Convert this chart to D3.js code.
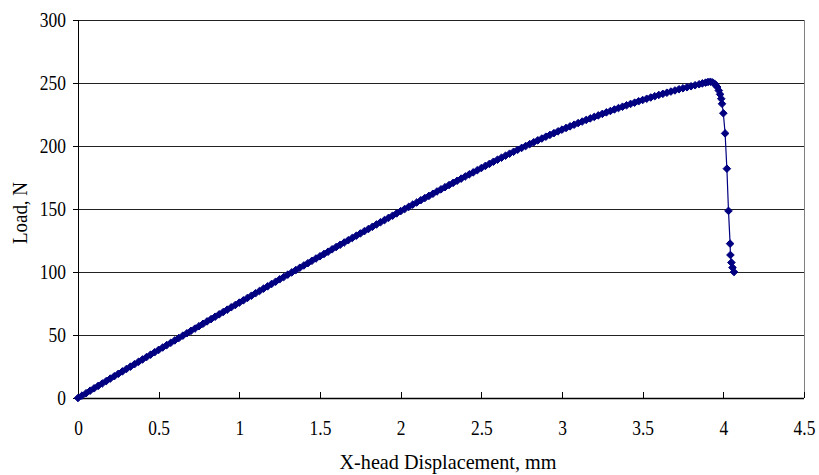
<!DOCTYPE html>
<html lang="en">
<head>
<meta charset="UTF-8">
<title>Load vs X-head Displacement</title>
<script src="https://d3js.org/d3.v7.min.js"></script>
<style>
  body { margin: 0; background: #fff; }
  .chart text { font-family: "Liberation Serif", "Times New Roman", serif; fill: #000; }
</style>
</head>
<body>
<svg class="chart"></svg>
<script>
// x-head displacement (mm) and load (N)
const displacement = [
  0, 0.025, 0.05, 0.075, 0.1, 0.125, 0.15, 0.175, 0.2, 0.225, 0.25, 0.275, 0.3, 0.325, 0.35, 0.375,
  0.4, 0.425, 0.45, 0.475, 0.5, 0.525, 0.55, 0.575, 0.6, 0.625, 0.65, 0.675, 0.7, 0.725, 0.75, 0.775,
  0.8, 0.825, 0.85, 0.875, 0.9, 0.925, 0.95, 0.975, 1.0, 1.025, 1.05, 1.075, 1.1, 1.125, 1.15, 1.175,
  1.2, 1.225, 1.25, 1.275, 1.3, 1.325, 1.35, 1.375, 1.4, 1.425, 1.45, 1.475, 1.5, 1.525, 1.55, 1.575,
  1.6, 1.625, 1.65, 1.675, 1.7, 1.725, 1.75, 1.775, 1.8, 1.825, 1.85, 1.875, 1.9, 1.925, 1.95, 1.975,
  2.0, 2.025, 2.05, 2.075, 2.1, 2.125, 2.15, 2.175, 2.2, 2.225, 2.25, 2.275, 2.3, 2.325, 2.35, 2.375,
  2.4, 2.425, 2.45, 2.475, 2.5, 2.525, 2.55, 2.575, 2.6, 2.625, 2.65, 2.675, 2.7, 2.725, 2.75, 2.775,
  2.8, 2.825, 2.85, 2.875, 2.9, 2.925, 2.95, 2.975, 3.0, 3.025, 3.05, 3.075, 3.1, 3.125, 3.15, 3.175,
  3.2, 3.225, 3.25, 3.275, 3.3, 3.325, 3.35, 3.375, 3.4, 3.425, 3.45, 3.475, 3.5, 3.525, 3.55, 3.575,
  3.6, 3.625, 3.65, 3.675, 3.7, 3.725, 3.75, 3.775, 3.8, 3.825, 3.85, 3.87, 3.89, 3.905, 3.92, 3.935,
  3.95, 3.962, 3.972, 3.98, 3.987, 3.992, 4.0, 4.011, 4.022, 4.032, 4.042, 4.044, 4.05, 4.057, 4.066
];
const load = [
  0, 1.9, 3.8, 5.8, 7.7, 9.6, 11.5, 13.4, 15.4, 17.3, 19.2, 21.1, 23.0, 24.9, 26.8, 28.7,
  30.6, 32.5, 34.4, 36.3, 38.2, 40.1, 42.0, 43.8, 45.7, 47.6, 49.5, 51.4, 53.3, 55.1, 57.0, 58.9,
  60.8, 62.6, 64.5, 66.4, 68.2, 70.1, 72.0, 73.8, 75.7, 77.5, 79.4, 81.2, 83.1, 84.9, 86.8, 88.6,
  90.5, 92.3, 94.2, 96.0, 97.9, 99.7, 101.5, 103.4, 105.2, 107.0, 108.9, 110.7, 112.5, 114.3, 116.1, 118.0,
  119.8, 121.6, 123.4, 125.2, 127.0, 128.8, 130.6, 132.4, 134.1, 135.9, 137.7, 139.5, 141.2, 143.0, 144.7, 146.5,
  148.3, 150.0, 151.7, 153.5, 155.2, 157.0, 158.7, 160.4, 162.1, 163.9, 165.6, 167.3, 169.0, 170.7, 172.4, 174.1,
  175.8, 177.5, 179.1, 180.8, 182.5, 184.2, 185.8, 187.5, 189.1, 190.7, 192.3, 193.9, 195.4, 197.0, 198.5, 200.0,
  201.5, 203.0, 204.5, 205.9, 207.4, 208.8, 210.2, 211.6, 213.0, 214.3, 215.6, 216.9, 218.2, 219.4, 220.7, 221.9,
  223.1, 224.3, 225.5, 226.7, 227.8, 229.0, 230.1, 231.2, 232.3, 233.4, 234.4, 235.5, 236.5, 237.5, 238.5, 239.5,
  240.5, 241.4, 242.3, 243.2, 244.1, 245.0, 245.8, 246.6, 247.4, 248.2, 249.0, 249.7, 250.3, 250.8, 251.0, 250.4,
  249.0, 246.8, 244.0, 241.0, 237.5, 233.5, 226.0, 210.0, 182.0, 148.5, 122.5, 113.5, 107.5, 103.5, 100.0
];
const xTicks = [0, 0.5, 1, 1.5, 2, 2.5, 3, 3.5, 4, 4.5];
const yTicks = [0, 50, 100, 150, 200, 250, 300];
const xTitle = "X-head Displacement, mm";
const yTitle = "Load, N";

const W = 819, H = 475;
const margin = { top: 20, right: 15, bottom: 77, left: 78 };
const width = W - margin.left - margin.right;
const height = H - margin.top - margin.bottom;
const navy = "#000080";

const svg = d3.select(".chart").attr("width", W).attr("height", H);
svg.append("rect").attr("width", W).attr("height", H).attr("fill", "#fff");

const g = svg.append("g")
  .attr("transform", `translate(${margin.left},${margin.top})`);

const x = d3.scaleLinear().domain([0, 4.5]).range([0, width]);
const y = d3.scaleLinear().domain([0, 300]).range([height, 0]);

// the original font is a little narrower than Liberation Serif, squeeze it
function squeeze(sel, k) {
  sel.each(function () {
    const len = this.getComputedTextLength();
    d3.select(this).attr("textLength", len * k).attr("lengthAdjust", "spacingAndGlyphs");
  });
}

// horizontal gridlines
g.append("g")
  .attr("class", "grid")
  .call(d3.axisLeft(y).tickValues(yTicks.slice(1)).tickSize(-width).tickFormat(""))
  .call(s => s.select(".domain").remove())
  .call(s => s.selectAll("line").attr("stroke", "#222").attr("shape-rendering", "crispEdges"));

// right border
g.append("line")
  .attr("x1", width).attr("x2", width).attr("y1", 0).attr("y2", height)
  .attr("stroke", "#808080").attr("shape-rendering", "crispEdges");

// y axis
const yAxis = g.append("g")
  .call(d3.axisLeft(y).tickValues(yTicks).tickSize(5).tickPadding(7))
  .call(s => s.select(".domain").attr("d", `M0.5,0V${height}`).attr("shape-rendering", "crispEdges"));
yAxis.selectAll("text").style("font-size", "20.5px").attr("dy", "0.34em").call(squeeze, 0.85);
yAxis.selectAll("line").attr("shape-rendering", "crispEdges");

// x axis (ticks point inward)
const xAxis = g.append("g")
  .attr("transform", `translate(0,${height})`)
  .call(d3.axisBottom(x).tickValues(xTicks).tickSize(-6).tickPadding(22).tickFormat(d3.format("")))
  .call(s => s.select(".domain").attr("d", `M0,0.5H${width}`).attr("stroke-width", 1.5));
xAxis.selectAll("text").style("font-size", "20.5px").call(squeeze, 0.85);
xAxis.selectAll("line").attr("shape-rendering", "crispEdges");

// axis titles
svg.append("text")
  .attr("x", 448)
  .attr("y", 469)
  .attr("text-anchor", "middle")
  .style("font-size", "21px")
  .attr("textLength", 217)
  .attr("lengthAdjust", "spacingAndGlyphs")
  .text(xTitle);

svg.append("text")
  .attr("transform", `translate(27,213) rotate(-90)`)
  .attr("text-anchor", "middle")
  .style("font-size", "21px")
  .attr("textLength", 62)
  .attr("lengthAdjust", "spacingAndGlyphs")
  .text(yTitle);

// series
const points = displacement.map((d, i) => ({ x: d, y: load[i] }));

g.append("path")
  .datum(points)
  .attr("fill", "none")
  .attr("stroke", navy)
  .attr("stroke-width", 1.2)
  .attr("d", d3.line().x(d => x(d.x)).y(d => y(d.y)));

const r = 3.8;
g.selectAll(".pt")
  .data(points)
  .enter()
  .append("path")
  .attr("class", "pt")
  .attr("transform", d => `translate(${x(d.x)},${y(d.y)})`)
  .attr("d", `M0,${-r}L${r},0L0,${r}L${-r},0Z`)
  .attr("fill", navy)
  .attr("stroke", navy)
  .attr("stroke-width", 1);
</script>
</body>
</html>
